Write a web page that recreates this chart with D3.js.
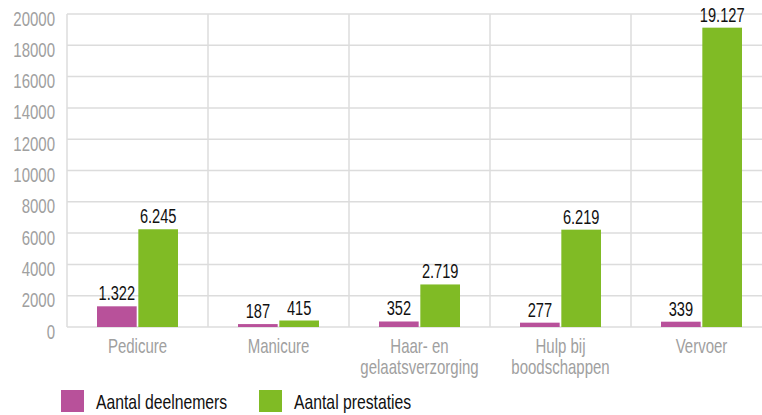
<!DOCTYPE html>
<html>
<head>
<meta charset="utf-8">
<script src="https://cdn.jsdelivr.net/npm/d3@7"></script>
<style>
  body { margin: 0; background: #fff; }
  svg text { font-family: "Liberation Sans", Arial, sans-serif; }
</style>
</head>
<body>
<div class="canvas"></div>
<script>
// data
const categories = [['Pedicure'], ['Manicure'], ['Haar- en', 'gelaatsverzorging'], ['Hulp bij', 'boodschappen'], ['Vervoer']];
const deelnemers = [1322, 187, 352, 277, 339];
const prestaties = [6245, 415, 2719, 6219, 19127];
const seriesNames = ['Aantal deelnemers', 'Aantal prestaties'];
const yTicks = [0, 2000, 4000, 6000, 8000, 10000, 12000, 14000, 16000, 18000, 20000];

const colors = ['#b8519a', '#80bb25'];
const dims = { width: 762, height: 415 };
const plot = { left: 67, right: 772, top: 14, bottom: 327 };
const squeeze = 0.75; // narrow the font to look condensed

const nl = d3.formatLocale({ decimal: ',', thousands: '.', grouping: [3], currency: ['€', ''] });
const fmt = nl.format(',d');

// place a text with a horizontal squeeze
const place = (sel, fx, fy) => sel
    .attr('x', 0).attr('y', 0)
    .attr('transform', (d, i) => `translate(${fx(d, i)}, ${fy(d, i)}) scale(${squeeze}, 1)`);

const svg = d3.select('.canvas')
    .append('svg')
    .attr('width', dims.width)
    .attr('height', dims.height);

const x = d3.scaleBand()
    .domain(d3.range(categories.length))
    .range([plot.left, plot.right]);

const y = d3.scaleLinear()
    .domain([0, 20000])
    .range([plot.bottom, plot.top]);

// horizontal grid
svg.append('g')
    .selectAll('line')
    .data(yTicks)
    .enter().append('line')
        .attr('x1', plot.left).attr('x2', plot.right)
        .attr('y1', d => y(d)).attr('y2', d => y(d))
        .attr('stroke', '#dcdcdc')
        .attr('stroke-width', 1.5);

// vertical separators
svg.append('g')
    .selectAll('line')
    .data(d3.range(categories.length + 1))
    .enter().append('line')
        .attr('x1', i => i < categories.length ? x(i) : plot.right)
        .attr('x2', i => i < categories.length ? x(i) : plot.right)
        .attr('y1', plot.top).attr('y2', plot.bottom)
        .attr('stroke', '#dcdcdc')
        .attr('stroke-width', 1.5);

// y tick labels
svg.append('g')
    .selectAll('text')
    .data(yTicks)
    .enter().append('text')
        .call(place, () => 55, d => y(d) + 11.5)
        .attr('text-anchor', 'end')
        .attr('fill', '#a0a0a0')
        .attr('font-size', 20)
        .text(d => d);

// bars
const inner = d3.scaleBand()
    .domain([0, 1])
    .range([0, 81])
    .paddingInner(0.04);

const series = [deelnemers, prestaties];
const groups = svg.append('g')
    .selectAll('g')
    .data(categories)
    .enter().append('g')
        .attr('transform', (d, i) => `translate(${x(i) + x.bandwidth() / 2 - 40.5}, 0)`);

groups.each(function(d, i) {
    const g = d3.select(this);
    series.forEach((s, k) => {
        g.append('rect')
            .attr('x', inner(k))
            .attr('width', inner.bandwidth())
            .attr('y', y(s[i]))
            .attr('height', y(0) - y(s[i]))
            .attr('fill', colors[k]);
        g.append('text')
            .call(place, () => inner(k) + inner.bandwidth() / 2, () => y(s[i]) - 6)
            .attr('text-anchor', 'middle')
            .attr('fill', '#111')
            .attr('font-size', 19.5)
            .text(fmt(s[i]));
    });
});

// category labels
svg.append('g')
    .selectAll('text')
    .data(categories)
    .enter().append('text')
        .call(place, (d, i) => x(i) + x.bandwidth() / 2, () => 353)
        .attr('text-anchor', 'middle')
        .attr('fill', '#a0a0a0')
        .attr('font-size', 20)
        .each(function(d) {
            d3.select(this).selectAll('tspan')
                .data(d)
                .enter().append('tspan')
                    .attr('x', 0)
                    .attr('dy', (t, j) => j ? 21 : 0)
                    .text(t => t);
        });

// legend
const legend = svg.append('g');
const legendX = [61, 259];
seriesNames.forEach((name, k) => {
    legend.append('rect')
        .attr('x', legendX[k]).attr('y', 390)
        .attr('width', 23).attr('height', 22)
        .attr('fill', colors[k]);
    legend.append('text')
        .call(place, () => legendX[k] + 35, () => 409)
        .attr('fill', '#111')
        .attr('font-size', 21)
        .text(name);
});
</script>
</body>
</html>
